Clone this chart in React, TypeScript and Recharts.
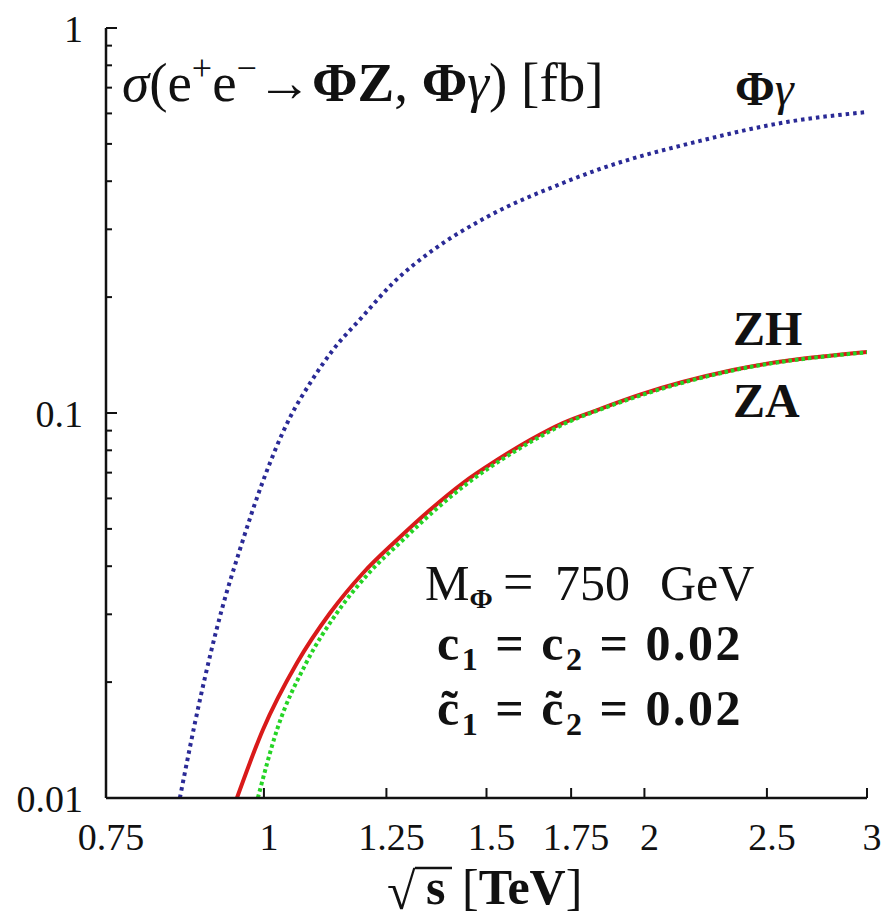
import React from 'react';
import { LineChart, Line, XAxis, YAxis } from 'recharts';

const SERIF = 'Liberation Serif';
const INK = '#111';

// axis ticks
const sqrtSTicks = [0.75, 1, 1.25, 1.5, 1.75, 2, 2.5, 3];
const sigmaTicks = [
  0.01, 0.02, 0.03, 0.04, 0.05, 0.06, 0.07, 0.08, 0.09,
  0.1, 0.2, 0.3, 0.4, 0.5, 0.6, 0.7, 0.8, 0.9, 1,
];
const sigmaLabelled = [0.01, 0.1, 1];

// e+e- -> Phi gamma
const phiGammaSqrtS = [0.858, 0.89, 0.926, 0.957, 0.997, 1.049, 1.088, 1.134, 1.196, 1.265, 1.361, 1.501, 1.724, 1.835, 2.213, 2.593, 3.0];
const phiGammaSigma = [0.01, 0.018, 0.0308, 0.0441, 0.0658, 0.0976, 0.1197, 0.1458, 0.1776, 0.2176, 0.2651, 0.3229, 0.3957, 0.4278, 0.509, 0.57, 0.605];

// e+e- -> ZH
const zhSqrtS = [0.952, 0.998, 1.062, 1.128, 1.198, 1.274, 1.353, 1.437, 1.529, 1.624, 1.724, 1.835, 1.984, 2.35, 3.0];
const zhSigma = [0.01, 0.01502, 0.02242, 0.03023, 0.03841, 0.04678, 0.05598, 0.06578, 0.07547, 0.08509, 0.09419, 0.1018, 0.1116, 0.1293, 0.144];

// e+e- -> ZA
const zaSqrtS = [0.989, 1.024, 1.08, 1.142, 1.211, 1.288, 1.366, 1.45, 1.54, 1.636, 1.734, 1.841, 1.988, 2.35, 3.0];
const zaSigma = [0.01, 0.01502, 0.02242, 0.03023, 0.03841, 0.04678, 0.05598, 0.06578, 0.07547, 0.08509, 0.09419, 0.1018, 0.1112, 0.129, 0.1438];

const rows = (xs: number[], ys: number[]) => xs.map((x, i) => ({ sqrtS: x, sigma: ys[i] }));

const phiGammaData = rows(phiGammaSqrtS, phiGammaSigma);
const zhData = rows(zhSqrtS, zhSigma);
const zaData = rows(zaSqrtS, zaSigma);

const W = 884;
const H = 922;

const textStyle = { fontFamily: SERIF };

const BottomTick = (props: any) => {
  const { x, y, payload } = props;
  return (
    <g>
      <line x1={x} y1={y} x2={x} y2={y - 10} stroke={INK} strokeWidth={2} />
      <text x={x + 5} y={y + 52} textAnchor="middle" fontSize={38} style={textStyle} fill={INK}>
        {payload.value}
      </text>
    </g>
  );
};

const TopTick = (props: any) => {
  const { x, y } = props;
  return <line x1={x} y1={y} x2={x} y2={y + 10} stroke={INK} strokeWidth={2} />;
};

const LeftTick = (props: any) => {
  const { x, y, payload } = props;
  const major = sigmaLabelled.includes(payload.value);
  return (
    <g>
      <line x1={x} y1={y} x2={x + (major ? 11 : 6)} y2={y} stroke={INK} strokeWidth={2} />
      {major && (
        <text x={x - 23} y={y + 14} textAnchor="end" fontSize={38} style={textStyle} fill={INK}>
          {payload.value}
        </text>
      )}
    </g>
  );
};

const RightTick = (props: any) => {
  const { x, y, payload } = props;
  const major = sigmaLabelled.includes(payload.value);
  return <line x1={x} y1={y} x2={x - (major ? 11 : 6)} y2={y} stroke={INK} strokeWidth={2} />;
};

const frame = { stroke: INK, strokeWidth: 2.5 };

export default function App() {
  return (
    <div style={{ position: 'relative', width: W, height: H, background: '#fff' }}>
      <style>{'body{margin:0;background:#fff}'}</style>
      <LineChart width={W} height={H} margin={{ top: 28, right: 17, bottom: 64, left: 46 }}>
        <XAxis
          xAxisId="bottom"
          dataKey="sqrtS"
          type="number"
          scale="log"
          domain={[0.75, 3]}
          allowDataOverflow
          ticks={sqrtSTicks}
          interval={0}
          tickSize={0}
          tickMargin={0}
          tickLine={false}
          axisLine={frame}
          height={60}
          tick={<BottomTick />}
        />
        <XAxis
          xAxisId="top"
          orientation="top"
          dataKey="sqrtS"
          type="number"
          scale="log"
          domain={[0.75, 3]}
          allowDataOverflow
          ticks={sqrtSTicks}
          interval={0}
          tickSize={0}
          tickMargin={0}
          tickLine={false}
          axisLine={frame}
          height={0}
          tick={<TopTick />}
        />
        <YAxis
          yAxisId="left"
          type="number"
          scale="log"
          domain={[0.01, 1]}
          allowDataOverflow
          ticks={sigmaTicks}
          interval={0}
          tickSize={0}
          tickMargin={0}
          tickLine={false}
          axisLine={frame}
          width={60}
          tick={<LeftTick />}
        />
        <YAxis
          yAxisId="right"
          orientation="right"
          type="number"
          scale="log"
          domain={[0.01, 1]}
          allowDataOverflow
          ticks={sigmaTicks}
          interval={0}
          tickSize={0}
          tickMargin={0}
          tickLine={false}
          axisLine={frame}
          width={0}
          tick={<RightTick />}
        />
        <Line
          xAxisId="bottom"
          yAxisId="left"
          data={phiGammaData}
          dataKey="sigma"
          type="monotone"
          stroke="#2a2a96"
          strokeWidth={4}
          strokeDasharray="3.5 4"
          dot={false}
          isAnimationActive={false}
        />
        <Line
          xAxisId="bottom"
          yAxisId="left"
          data={zhData}
          dataKey="sigma"
          type="monotone"
          stroke="#d91a1a"
          strokeWidth={4}
          dot={false}
          isAnimationActive={false}
        />
        <Line
          xAxisId="bottom"
          yAxisId="left"
          data={zaData}
          dataKey="sigma"
          type="monotone"
          stroke="#25d425"
          strokeWidth={4}
          strokeDasharray="3.5 3"
          dot={false}
          isAnimationActive={false}
        />
      </LineChart>

      {/* annotations */}
      <svg
        width={W}
        height={H}
        style={{ position: 'absolute', left: 0, top: 0, pointerEvents: 'none', fontFamily: SERIF }}
        fill={INK}
      >
        <text x={122} y={101} fontSize={55}>
          <tspan fontStyle="italic">σ</tspan>
          <tspan>(e</tspan>
          <tspan fontSize={36} dy={-21}>+</tspan>
          <tspan dy={21}>e</tspan>
          <tspan fontSize={36} dy={-21}>−</tspan>
          <tspan dy={21}>→</tspan>
          <tspan fontWeight="bold">ΦZ</tspan>
          <tspan>, </tspan>
          <tspan fontWeight="bold">Φ</tspan>
          <tspan fontStyle="italic">γ</tspan>
          <tspan>) [fb]</tspan>
        </text>

        <text x={735} y={105} fontSize={48}>
          <tspan fontWeight="bold">Φ</tspan>
          <tspan fontStyle="italic">γ</tspan>
        </text>

        <text x={733} y={345} fontSize={48} fontWeight="bold">ZH</text>
        <text x={733} y={417} fontSize={48} fontWeight="bold">ZA</text>

        <text x={425} y={600} fontSize={50}>
          <tspan>M</tspan>
          <tspan fontSize={28} dy={8} fontWeight="bold">Φ</tspan>
          <tspan x={503} dy={-8} fontSize={54}>=</tspan>
          <tspan x={555}>750</tspan>
          <tspan x={660}>GeV</tspan>
        </text>
        <text x={437} y={660} fontSize={50} fontWeight="bold" letterSpacing={2.5}>
          <tspan>c</tspan>
          <tspan fontSize={32} dy={10}>1</tspan>
          <tspan dy={-10}>{' = c'}</tspan>
          <tspan fontSize={32} dy={10}>2</tspan>
          <tspan dy={-10}>{' = 0.02'}</tspan>
        </text>
        <text x={437} y={725} fontSize={50} fontWeight="bold" letterSpacing={2.5}>
          <tspan>c̃</tspan>
          <tspan fontSize={32} dy={10}>1</tspan>
          <tspan dy={-10}>{' = c̃'}</tspan>
          <tspan fontSize={32} dy={10}>2</tspan>
          <tspan dy={-10}>{' = 0.02'}</tspan>
        </text>

        <text x={387} y={909} fontSize={52}>√</text>
        <line x1={415} y1={868} x2={452} y2={868} stroke={INK} strokeWidth={2.5} />
        <text x={426} y={904} fontSize={50} fontWeight="bold">s</text>
        <text x={462} y={904} fontSize={50}>
          <tspan>[</tspan>
          <tspan fontWeight="bold">TeV</tspan>
          <tspan>]</tspan>
        </text>
      </svg>
    </div>
  );
}
